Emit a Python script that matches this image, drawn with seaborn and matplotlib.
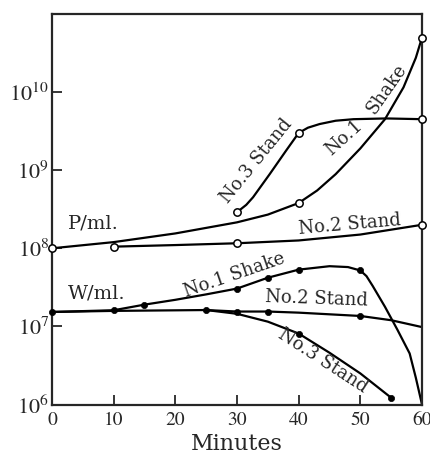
import numpy as np
import pandas as pd
import matplotlib
matplotlib.use("Agg")
import matplotlib.pyplot as plt
from matplotlib.ticker import NullLocator
import seaborn as sns

# values (count per ml against minutes)
# P/ml. curves (open circles)
p_shake_min = [0, 10, 20, 30, 35, 40, 43, 46, 50, 54, 57, 59, 60]
p_shake = [1.0e8, 1.2e8, 1.55e8, 2.15e8, 2.7e8, 3.8e8, 5.5e8, 8.9e8, 1.9e9,
           4.5e9, 1.15e10, 2.75e10, 5.0e10]
p_shake_pts = [0, 40, 60]

p_stand2_min = [10, 20, 30, 40, 50, 60]
p_stand2 = [1.05e8, 1.1e8, 1.16e8, 1.26e8, 1.5e8, 2.0e8]
p_stand2_pts = [10, 30, 60]

p_stand3_min = [30, 31.5, 32.6, 35.3, 38, 40, 41.5, 43.4, 46, 48.9, 54.2, 60]
p_stand3 = [2.9e8, 3.6e8, 4.5e8, 8.9e8, 1.8e9, 3.0e9, 3.5e9, 3.9e9, 4.3e9,
            4.5e9, 4.6e9, 4.5e9]
p_stand3_pts = [30, 40, 60]

# W/ml. curves (filled dots)
w_shake_min = [0, 10, 15, 20, 25, 30, 35, 40, 45, 48, 50, 51, 52, 54, 56, 58, 59, 60]
w_shake = [1.53e7, 1.61e7, 1.9e7, 2.19e7, 2.57e7, 3.05e7, 4.2e7, 5.33e7, 5.9e7,
           5.75e7, 5.2e7, 4.4e7, 3.3e7, 1.78e7, 9.1e6, 4.5e6, 2.2e6, 1.0e6]
w_shake_pts = [0, 10, 15, 30, 35, 40, 50]

w_stand2_min = [0, 10, 25, 30, 35, 40, 50, 55, 60]
w_stand2 = [1.53e7, 1.58e7, 1.62e7, 1.55e7, 1.55e7, 1.5e7, 1.36e7, 1.2e7, 9.8e6]
w_stand2_pts = [25, 30, 35, 50]

w_stand3_min = [25, 30, 35, 40, 45, 50, 55]
w_stand3 = [1.62e7, 1.45e7, 1.15e7, 8.1e6, 4.6e6, 2.5e6, 1.22e6]
w_stand3_pts = [40, 55]

yticks = [1e6, 1e7, 1e8, 1e9, 1e10]
ytick_labels = ["$10^{6}$", "$10^{7}$", "$10^{8}$", "$10^{9}$", "$10^{10}$"]
xticks = [0, 10, 20, 30, 40, 50, 60]

curves = [
    ("P shake", "P", p_shake_min, p_shake, p_shake_pts),
    ("P stand2", "P", p_stand2_min, p_stand2, p_stand2_pts),
    ("P stand3", "P", p_stand3_min, p_stand3, p_stand3_pts),
    ("W shake", "W", w_shake_min, w_shake, w_shake_pts),
    ("W stand2", "W", w_stand2_min, w_stand2, w_stand2_pts),
    ("W stand3", "W", w_stand3_min, w_stand3, w_stand3_pts),
]
rows = []
for name, kind, mins, vals, pts in curves:
    for m, v in zip(mins, vals):
        rows.append({"Curve": name, "Kind": kind, "Minutes": m,
                     "Count": v, "Point": m in pts})
df = pd.DataFrame(rows)

sns.set_style("ticks")
plt.rcParams["font.family"] = ["DejaVu Serif"]
plt.rcParams["mathtext.fontset"] = "stix"

fig = plt.figure(figsize=(4.31, 4.59), dpi=100)
ax = fig.add_axes([52 / 431, 54.5 / 459, 370 / 431, 390.5 / 459])
ax.set_yscale("log")

sns.lineplot(data=df, x="Minutes", y="Count", units="Curve", estimator=None,
             sort=False, color="k", lw=1.6, ax=ax)
sns.scatterplot(data=df[df.Point & (df.Kind == "P")], x="Minutes", y="Count",
                color="white", edgecolor="k", linewidth=1.1, s=28, zorder=4,
                ax=ax, clip_on=False)
sns.scatterplot(data=df[df.Point & (df.Kind == "W")], x="Minutes", y="Count",
                color="k", edgecolor="k", linewidth=0.5, s=20, zorder=4,
                ax=ax, clip_on=False)

ax.set_xlim(0, 60)
ax.set_ylim(1e6, 1e11)
ax.set_xticks(xticks)
ax.set_xticklabels([str(t) for t in xticks], fontsize=14,
                   fontfamily="STIXGeneral")
ax.set_yticks(yticks)
ax.set_yticklabels(ytick_labels, fontsize=16)
ax.yaxis.set_minor_locator(NullLocator())
ax.tick_params(direction="in", length=7, width=1.3, top=False, right=False)
ax.tick_params(axis="y", pad=2)
ax.tick_params(axis="x", pad=5)
for s in ax.spines.values():
    s.set_linewidth(1.6)
ax.set_xlabel("Minutes", fontsize=16, labelpad=3)
ax.set_ylabel("")

lab = dict(fontsize=13, ha="center", va="center", rotation_mode="anchor")
ax.text(2.6, 2.1e8, "P/ml.", fontsize=14, ha="left", va="center")
ax.text(2.6, 2.6e7, "W/ml.", fontsize=14, ha="left", va="center")
ax.text(33.1, 1.3e9, "No.3 Stand", rotation=51, **lab)
ax.text(47.4, 2.6e9, "No.1", rotation=42, **lab)
ax.text(54.2, 1.1e10, "Shake", rotation=55, **lab)
ax.text(48.3, 2.0e8, "No.2 Stand", rotation=5, **lab)
ax.text(29.6, 4.5e7, "No.1 Shake", rotation=19, **lab)
ax.text(42.9, 2.25e7, "No.2 Stand", rotation=-2, **lab)
ax.text(44.0, 3.6e6, "No.3 Stand", rotation=-33, **lab)

fig.savefig("out.png", dpi=100)
